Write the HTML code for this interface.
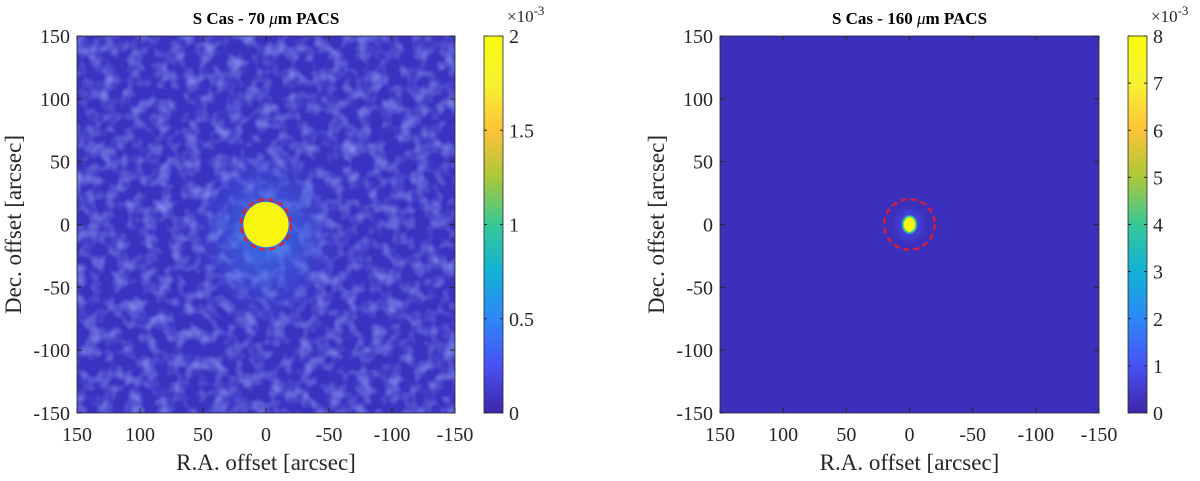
<!DOCTYPE html>
<html><head><meta charset="utf-8"><style>
html,body{margin:0;padding:0;background:#fff;}
svg{display:block;font-family:"Liberation Serif",serif;}
</style></head><body>
<svg id="fig" width="1200" height="481" viewBox="0 0 1200 481">
<defs>
<linearGradient id="parula" x1="0" y1="1" x2="0" y2="0">
<stop offset="0" stop-color="#3e26a8"/><stop offset="0.125" stop-color="#4852f4"/>
<stop offset="0.25" stop-color="#2d87f7"/><stop offset="0.375" stop-color="#12b1d6"/>
<stop offset="0.5" stop-color="#37c897"/><stop offset="0.625" stop-color="#abc739"/>
<stop offset="0.75" stop-color="#fec338"/><stop offset="0.875" stop-color="#f6f232"/>
<stop offset="1" stop-color="#f9fb0e"/>
</linearGradient>
<radialGradient id="glowL"><stop offset="0" stop-color="#2f8ef0" stop-opacity="0.85"/><stop offset="0.35" stop-color="#3a78ee" stop-opacity="0.5"/><stop offset="1" stop-color="#4a5ce8" stop-opacity="0"/></radialGradient>
<radialGradient id="glowR"><stop offset="0" stop-color="#2d87f7" stop-opacity="0.9"/><stop offset="0.5" stop-color="#4852f4" stop-opacity="0.5"/><stop offset="1" stop-color="#4852f4" stop-opacity="0"/></radialGradient>
<filter id="mottle" x="0" y="0" width="1" height="1"><feTurbulence type="fractalNoise" baseFrequency="0.07" numOctaves="2" seed="3"/><feColorMatrix type="matrix" values="0 0 0 0 0.28  0 0 0 0 0.33  0 0 0 0 0.9  0 0 0 -1.6 0.95"/><feComposite in2="SourceGraphic" operator="in"/></filter>
</defs>
<g id="layer"></g>
</svg>
<script>
const xTicks = [150, 100, 50, 0, -50, -100, -150];
const yTicks = [150, 100, 50, 0, -50, -100, -150];
const titles = ["S Cas - 70 ", "S Cas - 160 "];
const cbarMax = [2, 8];
const cbarTicksL = [0, 0.5, 1, 1.5, 2];
const cbarTicksR = [0, 1, 2, 3, 4, 5, 6, 7, 8];
const sourceRA = [0, 0];
const sourceDec = [0, 0];
const apertureRadius = [20, 20];
const coreRadius = [18, 5];
const glowRadius = [60, 14];

const NS = "http://www.w3.org/2000/svg";
const layer = document.getElementById("layer");
function mk(tag, attrs, parent) {
  const e = document.createElementNS(NS, tag);
  for (const k in attrs) e.setAttribute(k, attrs[k]);
  (parent || layer).appendChild(e);
  return e;
}
const panels = [
  {x0: 77, x1: 455, y0: 36, y1: 413, cb0: 484, cb1: 503, bg: "#3a33c2", name: "70um"},
  {x0: 720, x1: 1099, y0: 36, y1: 413, cb0: 1128, cb1: 1147, bg: "#3c2fbb", name: "160um"}
];
panels.forEach((p, i) => {
  const w = p.x1 - p.x0, h = p.y1 - p.y0;
  const X = v => p.x0 + (150 - v) / 300 * w;
  const Y = v => p.y0 + (150 - v) / 300 * h;
  const g = mk("g", {});
  
  
  const bg = mk("rect", {x: p.x0, y: p.y0, width: w, height: h, fill: p.bg}, g);
  
  
  if (i === 0) mk("rect", {x: p.x0, y: p.y0, width: w, height: h, fill: p.bg, filter: "url(#mottle)"}, g);
  const cx = X(sourceRA[i]), cy = Y(sourceDec[i]);
  const sx = w / 300;
  const glow = mk("ellipse", {cx: cx, cy: cy + (i === 0 ? 10 : 0), rx: glowRadius[i] * sx, ry: glowRadius[i] * sx * (i === 0 ? 1.15 : 1.1), fill: i === 0 ? "url(#glowL)" : "url(#glowR)"}, g);
  
  
  if (i === 1) {
    const ring = mk("ellipse", {cx: cx, cy: cy, rx: coreRadius[i] * sx * 1.2, ry: coreRadius[i] * sx * 1.45, fill: "#37c897"}, g);
    
    
  }
  const core = mk("ellipse", {cx: cx, cy: cy, rx: coreRadius[i] * sx * (i === 0 ? 1 : 0.9), ry: coreRadius[i] * sx * (i === 0 ? 1 : 1.15), fill: "#f9f50f"}, g);
  
  
  const ap = mk("circle", {cx: cx, cy: cy, r: apertureRadius[i] * sx, fill: "none", stroke: "#ee1c1c", "stroke-width": 2, "stroke-dasharray": "6 4"}, g);
  
  
  const box = mk("rect", {x: p.x0, y: p.y0, width: w, height: h, fill: "none", stroke: "#262626", "stroke-width": 0.8}, g);
  
  
  xTicks.forEach(t => {
    const x = X(t);
    mk("line", {x1: x, x2: x, y1: p.y1, y2: p.y1 - 5, stroke: "#262626"}, g);
    mk("line", {x1: x, x2: x, y1: p.y0, y2: p.y0 + 5, stroke: "#262626"}, g);
    const tl = mk("text", {x: x, y: p.y1 + 28, "text-anchor": "middle", "font-size": 20, fill: "#262626"}, g);
    tl.textContent = t;
    
    
  });
  yTicks.forEach(t => {
    const y = Y(t);
    mk("line", {x1: p.x0, x2: p.x0 + 5, y1: y, y2: y, stroke: "#262626"}, g);
    mk("line", {x1: p.x1, x2: p.x1 - 5, y1: y, y2: y, stroke: "#262626"}, g);
    const tl = mk("text", {x: p.x0 - 7, y: y + 7, "text-anchor": "end", "font-size": 20, fill: "#262626"}, g);
    tl.textContent = t;
    
    
  });
  const tt = mk("text", {x: (p.x0 + p.x1) / 2, y: 24, "text-anchor": "middle", "font-size": 17, "font-weight": "bold", fill: "#000"}, g);
  tt.innerHTML = titles[i] + '<tspan font-style="italic" font-weight="normal">\u03BC</tspan>m PACS';
  
  
  const xl = mk("text", {x: (p.x0 + p.x1) / 2, y: 470, "text-anchor": "middle", "font-size": 23, fill: "#262626"}, g);
  xl.textContent = "R.A. offset [arcsec]";
  
  
  const ylx = p.x0 - 56, yly = (p.y0 + p.y1) / 2;
  const yl = mk("text", {x: ylx, y: yly, "text-anchor": "middle", "font-size": 23, fill: "#262626", transform: `rotate(-90 ${ylx} ${yly})`}, g);
  yl.textContent = "Dec. offset [arcsec]";
  
  
  const cb = mk("rect", {x: p.cb0, y: p.y0, width: p.cb1 - p.cb0, height: h, fill: "url(#parula)", stroke: "#262626", "stroke-width": 0.8}, g);
  
  
  const ticks = i === 0 ? cbarTicksL : cbarTicksR;
  const CY = v => p.y1 - v / cbarMax[i] * h;
  ticks.forEach(t => {
    const y = CY(t);
    mk("line", {x1: p.cb0, x2: p.cb0 + 3, y1: y, y2: y, stroke: "#262626"}, g);
    mk("line", {x1: p.cb1, x2: p.cb1 - 3, y1: y, y2: y, stroke: "#262626"}, g);
    const tl = mk("text", {x: p.cb1 + 6, y: y + 7, "font-size": 20, fill: "#262626"}, g);
    tl.textContent = t;
    
    
  });
  const ex = mk("text", {x: p.cb0 + 23, y: 22, "font-size": 17, fill: "#262626"}, g);
  ex.innerHTML = '\u00D710<tspan dy="-7" font-size="13">-3</tspan>';
  
  
});
</script>
</body></html>
